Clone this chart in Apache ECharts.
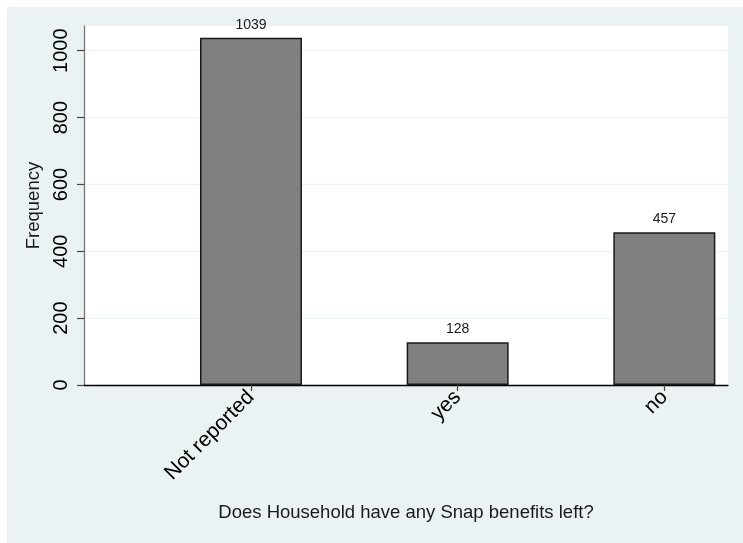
<!DOCTYPE html>
<html>
<head>
<meta charset="utf-8">
<script src="https://cdn.jsdelivr.net/npm/echarts@6/dist/echarts.min.js"></script>
<style>
html,body{margin:0;padding:0;background:#ffffff;}
#chart{width:743px;height:543px;}
</style>
</head>
<body>
<div id="chart"></div>
<script>
const categories = ["Not reported", "yes", "no"];
const categoryPositions = [1, 2, 3];
const frequencies = [1039, 128, 457];
const yTickValues = [0, 200, 400, 600, 800, 1000];

const FONT = "'Liberation Sans', Arial, Helvetica, sans-serif";
const chart = echarts.init(document.getElementById('chart'), null, {renderer: 'canvas'});

const option = {
  backgroundColor: '#ffffff',
  animation: false,
  textStyle: {fontFamily: FONT},
  graphic: [{
    type: 'rect', z: -10, silent: true,
    shape: {x: 7, y: 7, width: 743, height: 543},
    style: {fill: '#eaf2f3'}
  }],
  grid: {
    left: 84, right: 15, top: 26, bottom: 158,
    show: true, backgroundColor: '#ffffff', borderWidth: 0
  },
  xAxis: {
    type: 'value',
    min: 0.192, max: 3.308,
    name: 'Does Household have any Snap benefits left?',
    nameLocation: 'middle',
    nameGap: 118,
    nameTextStyle: {fontSize: 18.5, color: '#1a1a1a', fontFamily: FONT},
    axisLine: {show: true, onZero: false, lineStyle: {color: '#000000', width: 1.3}},
    axisTick: {show: true, length: 6, customValues: categoryPositions, lineStyle: {color: '#444444', width: 1.2}},
    axisLabel: {
      customValues: categoryPositions,
      rotate: 45,
      margin: 9,
      fontSize: 21,
      color: '#000000',
      fontFamily: FONT,
      formatter: function (v) {
        const i = categoryPositions.indexOf(Math.round(v));
        return i >= 0 ? categories[i] : '';
      }
    },
    splitLine: {show: false}
  },
  yAxis: {
    type: 'value',
    min: 0, max: 1074, interval: 200,
    name: 'Frequency',
    nameLocation: 'middle',
    nameRotate: 90,
    nameGap: 34,
    nameTextStyle: {fontSize: 18.5, color: '#1a1a1a', fontFamily: FONT},
    axisLine: {show: true, lineStyle: {color: '#777777', width: 1.3}},
    axisTick: {show: true, length: 7, customValues: yTickValues, lineStyle: {color: '#444444', width: 1.2}},
    axisLabel: {
      customValues: yTickValues,
      rotate: 90,
      margin: 13,
      fontSize: 20,
      color: '#000000',
      fontFamily: FONT,
      formatter: function (v) { return String(Math.round(v)); }
    },
    splitLine: {show: true, lineStyle: {color: '#eaf2f3', width: 1.2}}
  },
  series: [{
    type: 'bar',
    data: categoryPositions.map((p, i) => [p, frequencies[i]]),
    barWidth: 102,
    itemStyle: {color: '#808080', borderColor: '#1a1a1a', borderWidth: 1.5},
    label: {
      show: true, position: 'top', distance: 6,
      fontSize: 14, color: '#1a1a1a', fontFamily: FONT
    }
  }]
};
chart.setOption(option);
</script>
</body>
</html>
